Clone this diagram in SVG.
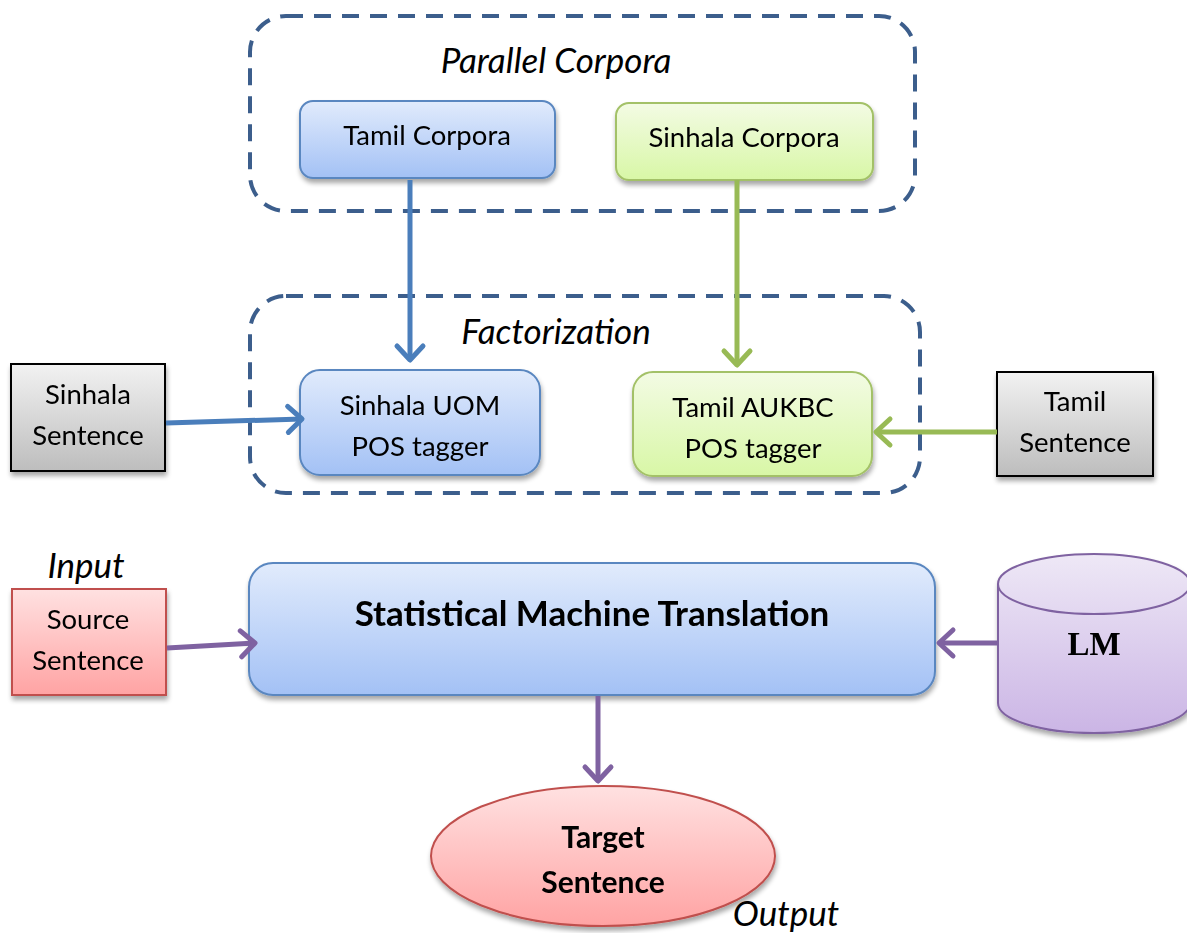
<svg xmlns="http://www.w3.org/2000/svg" width="1187" height="933" viewBox="0 0 1187 933">
  <defs>
    <linearGradient id="gBlue" x1="0" y1="0" x2="0" y2="1">
      <stop offset="0" stop-color="#E1EBFC"/>
      <stop offset="1" stop-color="#A3C1F5"/>
    </linearGradient>
    <linearGradient id="gGreen" x1="0" y1="0" x2="0" y2="1">
      <stop offset="0" stop-color="#F3FBE4"/>
      <stop offset="1" stop-color="#D8F7A6"/>
    </linearGradient>
    <linearGradient id="gGray" x1="0" y1="0" x2="0" y2="1">
      <stop offset="0" stop-color="#F2F2F2"/>
      <stop offset="1" stop-color="#BDBDBD"/>
    </linearGradient>
    <linearGradient id="gRed" x1="0" y1="0" x2="0" y2="1">
      <stop offset="0" stop-color="#FFE1E1"/>
      <stop offset="1" stop-color="#FFA3A3"/>
    </linearGradient>
    <linearGradient id="gPurple" x1="0" y1="0" x2="0" y2="1">
      <stop offset="0" stop-color="#EEE8F6"/>
      <stop offset="1" stop-color="#CBB5E5"/>
    </linearGradient>
    <filter id="shadow" x="-10%" y="-10%" width="125%" height="130%">
      <feGaussianBlur in="SourceAlpha" stdDeviation="2.5"/>
      <feOffset dx="1" dy="4" result="b"/>
      <feComponentTransfer><feFuncA type="linear" slope="0.35"/></feComponentTransfer>
      <feMerge><feMergeNode/><feMergeNode in="SourceGraphic"/></feMerge>
    </filter>
    <!-- open chevron heads, drawn in user units -->
    <marker id="aBlue" viewBox="-20 -16 24 32" refX="0" refY="0" markerWidth="24" markerHeight="32" markerUnits="userSpaceOnUse" orient="auto" overflow="visible">
      <path d="M-14,-13 L0,0 L-14,13" fill="none" stroke="#4A7EBB" stroke-width="5" stroke-linecap="round" stroke-linejoin="round"/>
    </marker>
    <marker id="aGreen" viewBox="-20 -16 24 32" refX="0" refY="0" markerWidth="24" markerHeight="32" markerUnits="userSpaceOnUse" orient="auto" overflow="visible">
      <path d="M-14,-13 L0,0 L-14,13" fill="none" stroke="#98BA55" stroke-width="5" stroke-linecap="round" stroke-linejoin="round"/>
    </marker>
    <marker id="aPurple" viewBox="-20 -16 24 32" refX="0" refY="0" markerWidth="24" markerHeight="32" markerUnits="userSpaceOnUse" orient="auto" overflow="visible">
      <path d="M-14,-13 L0,0 L-14,13" fill="none" stroke="#7F62A1" stroke-width="5" stroke-linecap="round" stroke-linejoin="round"/>
    </marker>
  </defs>
  <style>
    .group { fill: none; stroke: #3C5E8C; stroke-width: 4; stroke-dasharray: 17 11; }
    .t { font-family: Lato, "Liberation Sans", sans-serif; fill: #000; text-anchor: middle; }
    .lbl { font-size: 27.5px; }
    .ital { font-size: 35px; font-style: italic; }
    .bold { font-weight: bold; }
    .blue { fill: url(#gBlue); stroke: #5A87C0; stroke-width: 2; }
    .green { fill: url(#gGreen); stroke: #A3C167; stroke-width: 2; }
    .gray { fill: url(#gGray); stroke: #000; stroke-width: 2; }
    .red { fill: url(#gRed); stroke: #C0504D; stroke-width: 2; }
    .purple { fill: url(#gPurple); stroke: #7F62A1; stroke-width: 2; }
    .edge { fill: none; stroke-width: 5; }
  </style>

  <!-- group frames -->
  <g id="parallel-corpora">
    <rect class="group" x="250" y="16" width="665" height="195" rx="36"/>
    <text class="t ital" x="556" y="73">Parallel Corpora</text>
  </g>
  <g id="factorization">
    <rect class="group" x="250" y="296" width="670" height="197" rx="36"/>
    <text class="t ital" x="556" y="344">Factorization</text>
  </g>

  <g id="tamil-corpora" filter="url(#shadow)">
    <rect class="blue" x="300" y="101" width="255" height="77" rx="13"/>
    <text class="t lbl" x="427" y="145">Tamil Corpora</text>
  </g>
  <g id="sinhala-corpora" filter="url(#shadow)">
    <rect class="green" x="616" y="103" width="257" height="77" rx="13"/>
    <text class="t lbl" x="744" y="147">Sinhala Corpora</text>
  </g>

  <g id="sinhala-uom" filter="url(#shadow)">
    <rect class="blue" x="300" y="370" width="240" height="105" rx="20"/>
    <text class="t lbl" x="420" y="415">Sinhala UOM</text>
    <text class="t lbl" x="420" y="456">POS tagger</text>
  </g>
  <g id="tamil-aukbc" filter="url(#shadow)">
    <rect class="green" x="633" y="372" width="239" height="104" rx="20"/>
    <text class="t lbl" x="753" y="417">Tamil AUKBC</text>
    <text class="t lbl" x="753" y="458">POS tagger</text>
  </g>

  <g id="sinhala-sentence" filter="url(#shadow)">
    <rect class="gray" x="11" y="364" width="154" height="107"/>
    <text class="t lbl" x="88" y="404">Sinhala</text>
    <text class="t lbl" x="88" y="445">Sentence</text>
  </g>
  <g id="tamil-sentence" filter="url(#shadow)">
    <rect class="gray" x="997" y="372" width="156" height="104"/>
    <text class="t lbl" x="1075" y="411">Tamil</text>
    <text class="t lbl" x="1075" y="452">Sentence</text>
  </g>

  <g id="source-sentence" filter="url(#shadow)">
    <rect class="red" x="12" y="589" width="154" height="106"/>
    <text class="t lbl" x="88" y="629">Source</text>
    <text class="t lbl" x="88" y="670">Sentence</text>
  </g>
  <text class="t ital" x="86" y="578">Input</text>

  <g id="smt" filter="url(#shadow)">
    <rect class="blue" x="249" y="563" width="686" height="132" rx="24"/>
    <text class="t bold" x="592" y="626" font-size="35">Statistical Machine Translation</text>
  </g>

  <g id="lm" filter="url(#shadow)">
    <path class="purple" d="M998,584 A96,30 0 0 1 1190,584 L1190,703 A96,30 0 0 1 998,703 Z"/>
    <path d="M998,584 A96,30 0 0 0 1190,584" fill="none" stroke="#7F62A1" stroke-width="2"/>
    <text x="1094" y="655" font-family="Liberation Serif, serif" font-weight="bold" font-size="33" text-anchor="middle">LM</text>
  </g>

  <g id="target-sentence" filter="url(#shadow)">
    <ellipse class="red" cx="603" cy="856" rx="172" ry="70"/>
    <text class="t bold" x="603" y="848" font-size="30">Target</text>
    <text class="t bold" x="603" y="893" font-size="30">Sentence</text>
  </g>
  <text class="t ital" x="786" y="926">Output</text>

  <!-- connectors -->
  <g id="connectors">
    <line class="edge" stroke="#4A7EBB" x1="410" y1="180" x2="410" y2="360" marker-end="url(#aBlue)"/>
    <line class="edge" stroke="#98BA55" x1="737" y1="180" x2="737" y2="365" marker-end="url(#aGreen)"/>
    <line class="edge" stroke="#4A7EBB" x1="166" y1="423" x2="302" y2="419" marker-end="url(#aBlue)"/>
    <line class="edge" stroke="#98BA55" x1="997" y1="432" x2="876" y2="432" marker-end="url(#aGreen)"/>
    <line class="edge" stroke="#7F62A1" x1="167" y1="648" x2="255" y2="643" marker-end="url(#aPurple)"/>
    <line class="edge" stroke="#7F62A1" x1="998" y1="643" x2="939" y2="643" marker-end="url(#aPurple)"/>
    <line class="edge" stroke="#7F62A1" x1="598" y1="696" x2="598" y2="781" marker-end="url(#aPurple)"/>
  </g>
</svg>
